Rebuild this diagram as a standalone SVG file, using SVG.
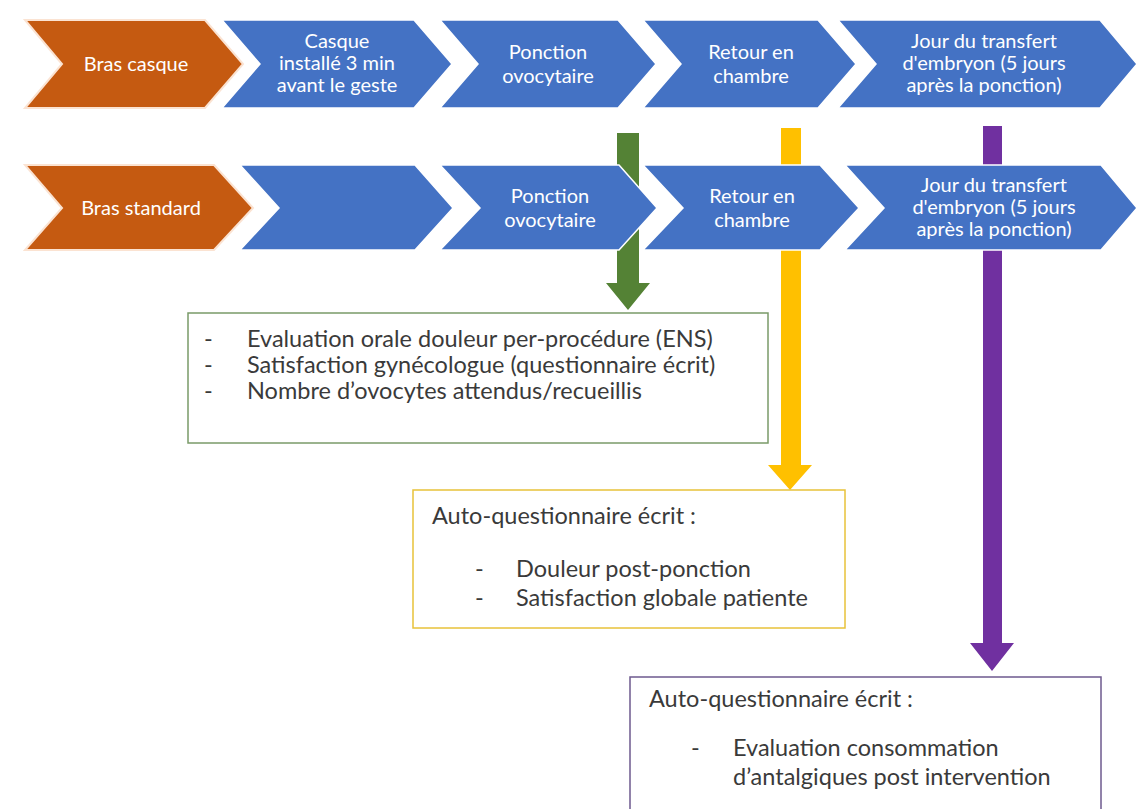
<svg xmlns="http://www.w3.org/2000/svg" width="1139" height="809" viewBox="0 0 1139 809">
<style>
.bg{fill:#ffffff}
.orange{fill:#C55A11;stroke:#FBE3D2;stroke-width:2}
.blue{fill:#4472C4;stroke:#ffffff;stroke-width:1.5}
.ct{font-family:Lato,"Open Sans",sans-serif;font-size:20px;fill:#ffffff;text-anchor:middle}
.bt{font-family:Lato,"Open Sans",sans-serif;font-size:23.5px;fill:#3a3a3a}
.gbox{fill:#ffffff;stroke:#7A9A68;stroke-width:1.5}
.ybox{fill:#ffffff;stroke:#E8C23A;stroke-width:1.5}
.pbox{fill:#ffffff;stroke:#6E5A8E;stroke-width:1.5}
</style>
<rect class="bg" x="0" y="0" width="1139" height="809"/>

<g id="connectors">
  <polygon fill="#548235" points="617,133 639,133 639,283 650,283 628,310 606,283 617,283"/>
  <polygon fill="#FFC000" points="781,128 801,128 801,465 812,465 790,490 768,465 781,465"/>
  <polygon fill="#7030A0" points="983,126 1002,126 1002,643 1014,643 992,671 970,643 983,643"/>
</g>

<g id="row1">
  <g id="r1-bras-casque">
    <polygon class="orange" points="25,20 205,20 243,64 205,108 25,108 62,64"/>
    <text class="ct" x="136" y="71">Bras casque</text>
  </g>
  <g id="r1-casque">
    <polygon class="blue" points="222,20 414,20 452,64 414,108 222,108 260,64"/>
    <text class="ct" x="337" y="48">Casque</text>
    <text class="ct" x="337" y="70">installé 3 min</text>
    <text class="ct" x="337" y="92">avant le geste</text>
  </g>
  <g id="r1-ponction">
    <polygon class="blue" points="440,20 618,20 656,64 618,108 440,108 478,64"/>
    <text class="ct" x="548" y="59">Ponction</text>
    <text class="ct" x="548" y="83">ovocytaire</text>
  </g>
  <g id="r1-retour">
    <polygon class="blue" points="643,20 818,20 856,64 818,108 643,108 681,64"/>
    <text class="ct" x="751" y="59">Retour en</text>
    <text class="ct" x="751" y="83">chambre</text>
  </g>
  <g id="r1-transfert">
    <polygon class="blue" points="838,20 1100,20 1137,64 1100,108 838,108 876,64"/>
    <text class="ct" x="984" y="48">Jour du transfert</text>
    <text class="ct" x="984" y="70">d'embryon (5 jours</text>
    <text class="ct" x="984" y="92">après la ponction)</text>
  </g>
</g>

<g id="row2">
  <g id="r2-bras-standard">
    <polygon class="orange" points="25,165 214,165 253,208 214,250 25,250 62,208"/>
    <text class="ct" x="141" y="215">Bras standard</text>
  </g>
  <g id="r2-empty">
    <polygon class="blue" points="240,165 415,165 453,208 415,250 240,250 279,208"/>
  </g>
  <g id="r2-ponction">
    <polygon class="blue" points="440,165 619,165 657,208 619,250 440,250 480,208"/>
    <text class="ct" x="550" y="203">Ponction</text>
    <text class="ct" x="550" y="227">ovocytaire</text>
  </g>
  <g id="r2-retour">
    <polygon class="blue" points="643,165 820,165 859,208 820,250 643,250 683,208"/>
    <text class="ct" x="752" y="203">Retour en</text>
    <text class="ct" x="752" y="227">chambre</text>
  </g>
  <g id="r2-transfert">
    <polygon class="blue" points="845,165 1101,165 1137,208 1101,250 845,250 884,208"/>
    <text class="ct" x="994" y="192">Jour du transfert</text>
    <text class="ct" x="994" y="214">d'embryon (5 jours</text>
    <text class="ct" x="994" y="236">après la ponction)</text>
  </g>
</g>

<g id="box-green">
  <rect class="gbox" x="188" y="313" width="580" height="130"/>
  <text class="bt" x="204" y="347">-</text>
  <text class="bt" x="247" y="347">Evaluation orale douleur per-procédure (ENS)</text>
  <text class="bt" x="204" y="373">-</text>
  <text class="bt" x="247" y="373">Satisfaction gynécologue (questionnaire écrit)</text>
  <text class="bt" x="204" y="399">-</text>
  <text class="bt" x="247" y="399">Nombre d’ovocytes attendus/recueillis</text>
</g>

<g id="box-yellow">
  <rect class="ybox" x="413" y="490" width="432" height="138"/>
  <text class="bt" x="432" y="524">Auto-questionnaire écrit :</text>
  <text class="bt" x="475" y="577">-</text>
  <text class="bt" x="516" y="577">Douleur post-ponction</text>
  <text class="bt" x="475" y="606">-</text>
  <text class="bt" x="516" y="606">Satisfaction globale patiente</text>
</g>

<g id="box-purple">
  <rect class="pbox" x="630" y="677" width="471" height="145"/>
  <text class="bt" x="649" y="707">Auto-questionnaire écrit :</text>
  <text class="bt" x="691" y="756">-</text>
  <text class="bt" x="733" y="756">Evaluation consommation</text>
  <text class="bt" x="733" y="785">d’antalgiques post intervention</text>
</g>
</svg>
